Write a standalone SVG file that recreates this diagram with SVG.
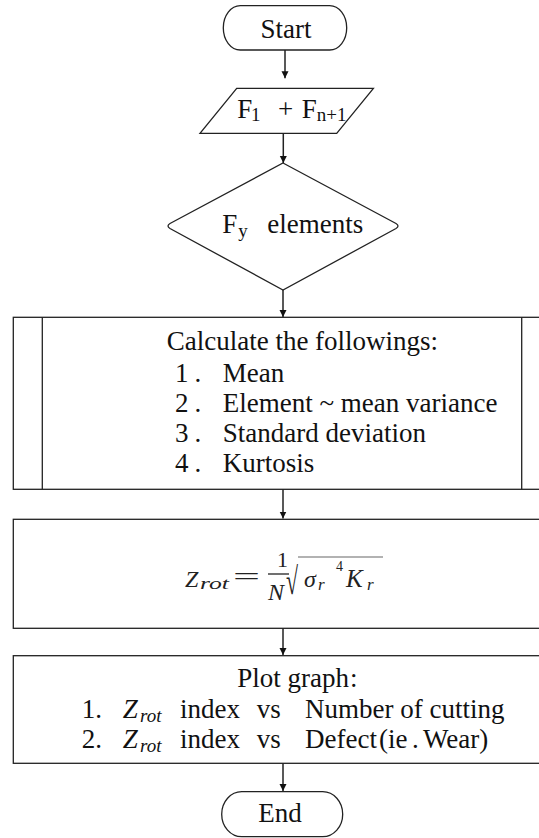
<svg xmlns="http://www.w3.org/2000/svg" width="539" height="838" viewBox="0 0 539 838">
<defs>
<marker id="ah" markerUnits="userSpaceOnUse" markerWidth="8" markerHeight="12" refX="7" refY="3.5" orient="auto" viewBox="0 0 8 7">
<path d="M0,0 L7,3.5 L0,7 Z" fill="#111"/>
</marker>
<style>
.s{fill:#fff;stroke:#222;stroke-width:1.3}
.t{font-family:"Liberation Serif","Tinos","Times New Roman","DejaVu Serif",serif;font-size:27px;fill:#111}
.sub{font-size:19px}
.i{font-style:italic}
.c{stroke:#222;stroke-width:1.5;fill:none}
.m{font-family:"Liberation Serif","Tinos","Times New Roman","DejaVu Serif",serif;fill:#222}
</style>
</defs>
<rect width="539" height="838" fill="#fff"/>
<g id="start">
<rect class="s" x="223.3" y="5.7" width="123.4" height="44.3" rx="17" ry="22"/>
<text class="t" x="286" y="38.3" text-anchor="middle">Start</text>
</g>
<g id="input">
<polygon class="s" points="236.7,88.3 373.4,88.3 336.7,133.3 200,133.3"/>
<text class="t" x="237.3" y="118.3">F</text>
<text class="t sub" x="251" y="121">1</text>
<text class="t" x="278" y="118.3">+</text>
<text class="t" x="301.7" y="118.3">F</text>
<text class="t sub" x="316.7" y="121">n+1</text>
</g>
<g id="decision">
<path class="s" d="M283,163 L396,223.5 Q400,226 396,228.5 L283,290 L170,228.5 Q166,226 170,223.5 Z"/>
<text class="t" x="222.3" y="233.3">F</text>
<text class="t sub" x="238.3" y="237">y</text>
<text class="t" x="267.3" y="233.3">elements</text>
</g>
<g id="calculate">
<rect class="s" x="13.3" y="317.3" width="537.4" height="172"/>
<line class="s" x1="42.3" y1="317.3" x2="42.3" y2="489.3"/>
<line class="s" x1="521.7" y1="317.3" x2="521.7" y2="489.3"/>
<text class="t" x="166.7" y="350">Calculate the followings:</text>
<text class="t" x="175" y="381.7">1<tspan dx="6">.</tspan></text>
<text class="t" x="222.7" y="381.7">Mean</text>
<text class="t" x="175" y="411.7">2<tspan dx="6">.</tspan></text>
<text class="t" x="222.7" y="411.7">Element ~ mean variance</text>
<text class="t" x="175" y="441.7">3<tspan dx="6">.</tspan></text>
<text class="t" x="222.7" y="441.7">Standard deviation</text>
<text class="t" x="175" y="471.7">4<tspan dx="6">.</tspan></text>
<text class="t" x="222.7" y="471.7">Kurtosis</text>
</g>
<g id="formula">
<rect class="s" x="13.3" y="519.3" width="537.4" height="109"/>
<text class="m i" x="185" y="587" font-size="24">Z</text>
<text class="m i" x="200" y="589" font-size="17" textLength="29" lengthAdjust="spacingAndGlyphs">rot</text>
<text class="m" x="233" y="584" font-size="24" textLength="27" lengthAdjust="spacingAndGlyphs">=</text>
<text class="m" x="277" y="567" font-size="22">1</text>
<line x1="268" y1="574" x2="289" y2="574" stroke="#222" stroke-width="1.3"/>
<text class="m i" x="268" y="600" font-size="24">N</text>
<text class="m" x="286" y="594" font-size="38" textLength="12" lengthAdjust="spacingAndGlyphs">√</text>
<line x1="298" y1="557" x2="383" y2="557" stroke="#999" stroke-width="1.3"/>
<text class="m i" x="304" y="587" font-size="24">σ</text>
<text class="m i" x="318" y="590" font-size="17">r</text>
<text class="m" x="336" y="571" font-size="14">4</text>
<text class="m i" x="346" y="587" font-size="25">K</text>
<text class="m i" x="367" y="590" font-size="17">r</text>
</g>
<g id="plot">
<rect class="s" x="13.3" y="655.7" width="537.4" height="107.6"/>
<text class="t" x="237.3" y="687">Plot graph<tspan dx="1">:</tspan></text>
<text class="t" x="81.7" y="718">1.</text>
<text class="t i" x="122.7" y="718">Z</text>
<text class="t i sub" x="140" y="722">rot</text>
<text class="t" x="180" y="718">index</text>
<text class="t" x="256.7" y="718">vs</text>
<text class="t" x="305" y="718">Number of cutting</text>
<text class="t" x="81.7" y="748">2.</text>
<text class="t i" x="122.7" y="748">Z</text>
<text class="t i sub" x="140" y="752">rot</text>
<text class="t" x="180" y="748">index</text>
<text class="t" x="256.7" y="748">vs</text>
<text class="t" x="305" y="748">Defect<tspan x="379">(ie</tspan><tspan x="412">.</tspan><tspan x="423">Wear)</tspan></text>
</g>
<g id="end">
<rect class="s" x="221.7" y="791.7" width="121" height="45" rx="20" ry="22.5"/>
<text class="t" x="280" y="821.7" text-anchor="middle">End</text>
</g>
<g id="connectors">
<line class="c" x1="285" y1="50" x2="285" y2="78.3" marker-end="url(#ah)"/>
<line class="c" x1="283.3" y1="133.3" x2="283.3" y2="163" marker-end="url(#ah)"/>
<line class="c" x1="283" y1="290" x2="283" y2="317" marker-end="url(#ah)"/>
<line class="c" x1="283" y1="489.3" x2="283" y2="518.5" marker-end="url(#ah)"/>
<line class="c" x1="283" y1="628.3" x2="283" y2="655" marker-end="url(#ah)"/>
<line class="c" x1="283" y1="763.3" x2="283" y2="791" marker-end="url(#ah)"/>
</g>
</svg>
